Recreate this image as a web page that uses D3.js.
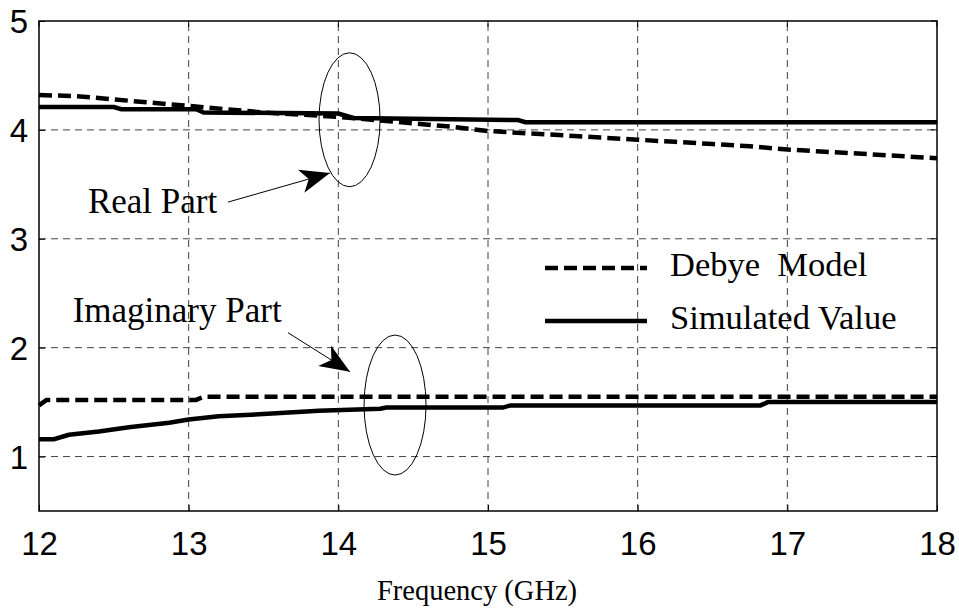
<!DOCTYPE html>
<html>
<head>
<meta charset="utf-8">
<script src="https://cdn.jsdelivr.net/npm/d3@7"></script>
<style>
  body { margin: 0; background: #fff; }
  svg { display: block; }
</style>
</head>
<body>
<svg id="chart"></svg>
<script>
// data (GHz, permittivity)
const realDebyeF = [12, 12.25, 12.5, 12.75, 13, 13.25, 13.5, 13.75, 14, 14.25, 14.5, 14.75, 15, 15.25, 15.5, 15.75, 16, 16.25, 16.5, 16.75, 17, 17.25, 17.5, 17.75, 18];
const realDebyeV = [4.32, 4.31, 4.28, 4.25, 4.22, 4.19, 4.16, 4.14, 4.12, 4.09, 4.06, 4.03, 3.99, 3.97, 3.95, 3.93, 3.91, 3.89, 3.87, 3.85, 3.82, 3.80, 3.78, 3.76, 3.74];

const realSimF = [12, 12.5, 12.55, 13.05, 13.1, 14.0, 14.1, 15.2, 15.25, 18];
const realSimV = [4.21, 4.21, 4.19, 4.19, 4.16, 4.15, 4.11, 4.09, 4.07, 4.07];

const imagDebyeF = [12, 12.05, 13.05, 13.1, 18];
const imagDebyeV = [1.47, 1.52, 1.52, 1.55, 1.55];

const imagSimF = [12, 12.1, 12.2, 12.4, 12.6, 12.87, 13.0, 13.2, 13.5, 13.87, 14.28, 14.32, 15.1, 15.15, 16.82, 16.87, 18];
const imagSimV = [1.16, 1.16, 1.20, 1.23, 1.27, 1.31, 1.34, 1.37, 1.39, 1.42, 1.44, 1.45, 1.45, 1.47, 1.47, 1.50, 1.50];

const xTicks = [12, 13, 14, 15, 16, 17, 18];
const yTicks = [1, 2, 3, 4, 5];

const legendLabels = ["Debye  Model", "Simulated Value"];

const width = 959;
const height = 613;
const margin = { left: 39, right: 22, top: 21, bottom: 102 };
const serif = "'Liberation Serif', 'Times New Roman', serif";

const svg = d3.select("#chart")
    .attr("width", width)
    .attr("height", height);

const x = d3.scaleLinear()
    .domain([12, 18])
    .range([margin.left, width - margin.right]);

const y = d3.scaleLinear()
    .domain([0.5, 5])
    .range([height - margin.bottom, margin.top]);

// grid
svg.append("g")
    .selectAll("line")
    .data(xTicks.slice(1, -1))
    .enter()
    .append("line")
    .attr("x1", d => x(d)).attr("x2", d => x(d))
    .attr("y1", y(0.5)).attr("y2", y(5))
    .attr("stroke", "#444")
    .attr("stroke-width", 1)
    .attr("stroke-dasharray", "7,5");

svg.append("g")
    .selectAll("line")
    .data(yTicks.slice(0, -1))
    .enter()
    .append("line")
    .attr("x1", x(12)).attr("x2", x(18))
    .attr("y1", d => y(d)).attr("y2", d => y(d))
    .attr("stroke", "#444")
    .attr("stroke-width", 1)
    .attr("stroke-dasharray", "7,5");

// axes
const xAxis = svg.append("g")
    .attr("transform", `translate(0,${y(0.5)})`)
    .call(d3.axisBottom(x).tickValues(xTicks).tickSize(-6).tickPadding(21).tickFormat(d3.format("d")));

const yAxis = svg.append("g")
    .attr("transform", `translate(${x(12)},0)`)
    .call(d3.axisLeft(y).tickValues(yTicks).tickSize(-6).tickPadding(11).tickFormat(d3.format("d")));

[xAxis, yAxis].forEach(g => {
    g.select(".domain").remove();
    g.selectAll("text")
        .attr("font-family", "'Liberation Sans', Arial, sans-serif")
        .attr("font-size", 33)
        .attr("fill", "#000");
    g.selectAll("line").attr("stroke", "#000");
});
xAxis.selectAll("text").attr("dy", "0.71em");
yAxis.selectAll("text").attr("dy", "0.36em");

// right-side and top ticks, matlab box style
svg.append("g")
    .selectAll("line")
    .data(yTicks)
    .enter()
    .append("line")
    .attr("x1", x(18)).attr("x2", x(18) - 6)
    .attr("y1", d => y(d)).attr("y2", d => y(d))
    .attr("stroke", "#000");

svg.append("g")
    .selectAll("line")
    .data(xTicks)
    .enter()
    .append("line")
    .attr("x1", d => x(d)).attr("x2", d => x(d))
    .attr("y1", y(5)).attr("y2", y(5) + 6)
    .attr("stroke", "#000");

// frame
svg.append("rect")
    .attr("x", x(12)).attr("y", y(5))
    .attr("width", x(18) - x(12))
    .attr("height", y(0.5) - y(5))
    .attr("fill", "none")
    .attr("stroke", "#000")
    .attr("stroke-width", 1.5);

// curves
const line = d3.line()
    .x(d => x(d[0]))
    .y(d => y(d[1]));

const series = [
    { f: realDebyeF, v: realDebyeV, dash: "13,6" },
    { f: realSimF, v: realSimV, dash: null },
    { f: imagDebyeF, v: imagDebyeV, dash: "13,6" },
    { f: imagSimF, v: imagSimV, dash: null }
];

series.forEach(s => {
    svg.append("path")
        .datum(s.f.map((f, i) => [f, s.v[i]]))
        .attr("d", line)
        .attr("fill", "none")
        .attr("stroke", "#000")
        .attr("stroke-width", 4.5)
        .attr("stroke-dasharray", s.dash);
});

// ellipses
const ellipses = [
    { cf: 14.075, cv: 4.093, rf: 0.204, rv: 0.615 },
    { cf: 14.379, cv: 1.473, rf: 0.207, rv: 0.643 }
];
svg.append("g")
    .selectAll("ellipse")
    .data(ellipses)
    .enter()
    .append("ellipse")
    .attr("cx", d => x(d.cf))
    .attr("cy", d => y(d.cv))
    .attr("rx", d => x(12 + d.rf) - x(12))
    .attr("ry", d => y(0.5) - y(0.5 + d.rv))
    .attr("fill", "none")
    .attr("stroke", "#000")
    .attr("stroke-width", 1);

// arrows
svg.append("defs").append("marker")
    .attr("id", "head")
    .attr("viewBox", "0 0 30 24")
    .attr("refX", 30).attr("refY", 12)
    .attr("markerWidth", 30).attr("markerHeight", 24)
    .attr("markerUnits", "userSpaceOnUse")
    .attr("orient", "auto")
    .append("path")
    .attr("d", "M0,0 L30,12 L0,24 L8,12 Z")
    .attr("fill", "#000");

const arrows = [
    { f1: 13.263, v1: 3.337, f2: 13.944, v2: 3.604 },
    { f1: 13.664, v1: 2.137, f2: 14.078, v2: 1.779 }
];
svg.append("g")
    .selectAll("line")
    .data(arrows)
    .enter()
    .append("line")
    .attr("x1", d => x(d.f1)).attr("y1", d => y(d.v1))
    .attr("x2", d => x(d.f2)).attr("y2", d => y(d.v2))
    .attr("stroke", "#000")
    .attr("stroke-width", 1)
    .attr("marker-end", "url(#head)");

// annotation text
const notes = [
    { text: "Real Part", f: 12.327, v: 3.236 },
    { text: "Imaginary Part", f: 12.225, v: 2.238 }
];
svg.append("g")
    .selectAll("text")
    .data(notes)
    .enter()
    .append("text")
    .attr("x", d => x(d.f))
    .attr("y", d => y(d.v))
    .attr("font-family", serif)
    .attr("font-size", 35)
    .text(d => d.text);

// legend
const legend = svg.append("g");
legendLabels.forEach((label, i) => {
    const ly = 268 + i * 53;
    legend.append("line")
        .attr("x1", 545).attr("x2", 647)
        .attr("y1", ly).attr("y2", ly)
        .attr("stroke", "#000")
        .attr("stroke-width", 4.5)
        .attr("stroke-dasharray", i === 0 ? "13,6" : null);
    legend.append("text")
        .attr("x", 670)
        .attr("y", ly + 8)
        .attr("font-family", serif)
        .attr("font-size", 34.5)
        .style("white-space", "pre")
        .text(label);
});

// x label
svg.append("text")
    .attr("x", 477)
    .attr("y", 600)
    .attr("text-anchor", "middle")
    .attr("font-family", serif)
    .attr("font-size", 28.5)
    .text("Frequency (GHz)");
</script>
</body>
</html>
